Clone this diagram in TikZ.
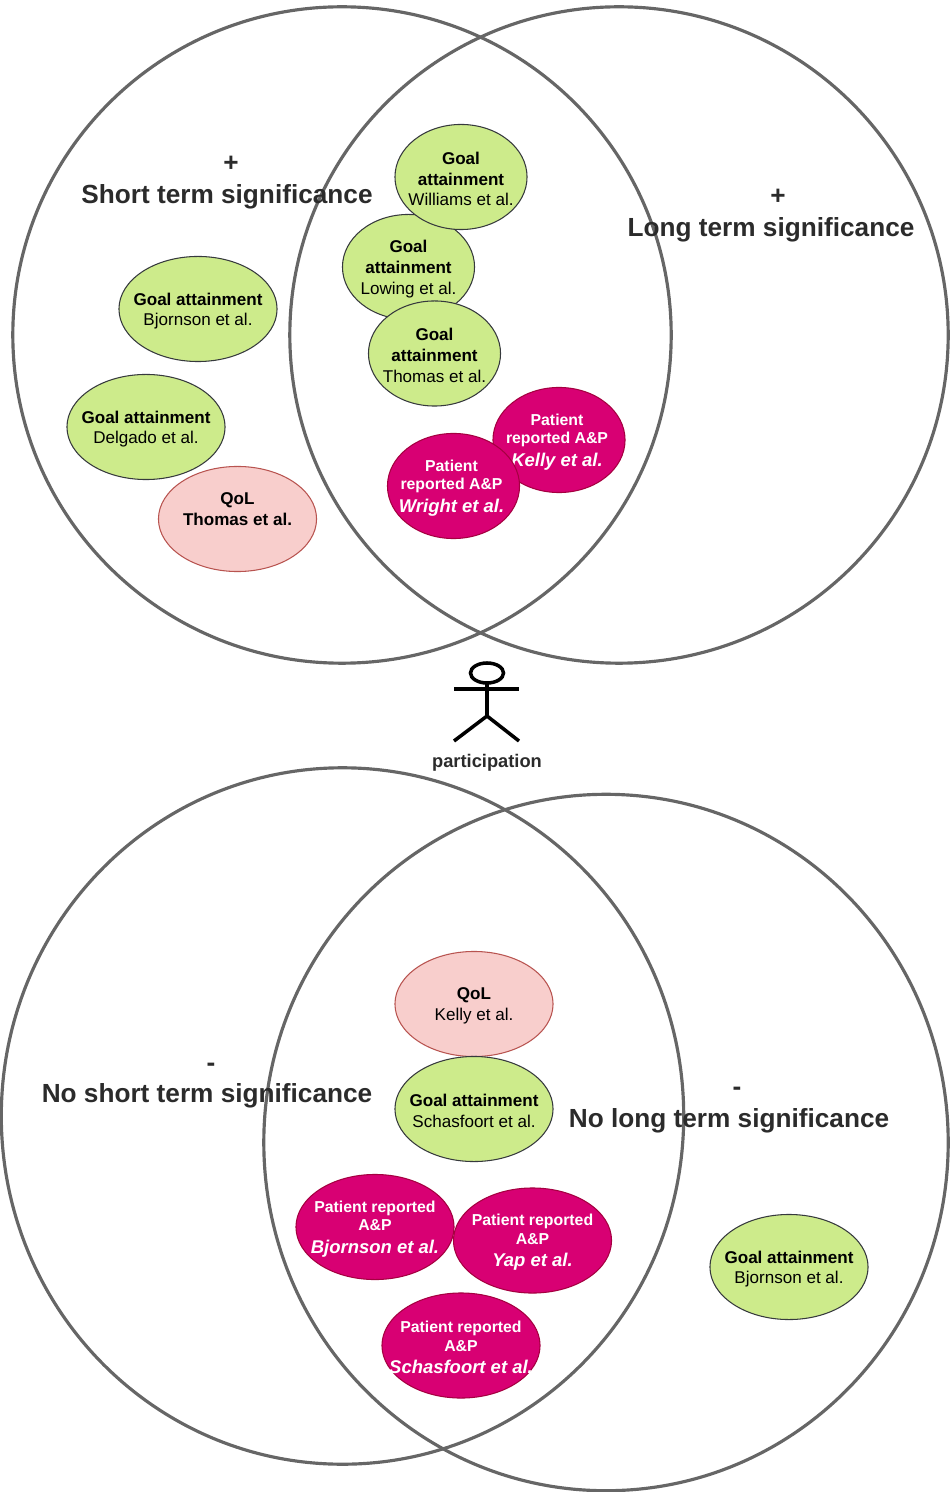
\documentclass[tikz,border=0pt]{standalone}
\usepackage{fontspec}
\setmainfont{Liberation Sans}
\usetikzlibrary{shapes.geometric}
\definecolor{ringgray}{HTML}{666666}
\definecolor{headgray}{HTML}{2B2B2B}
\definecolor{goalgreen}{HTML}{CDEB8B}
\definecolor{goalline}{HTML}{36393D}
\definecolor{patientpink}{HTML}{D80073}
\definecolor{patientline}{HTML}{A50040}
\definecolor{qolpink}{HTML}{F8CECC}
\definecolor{qolline}{HTML}{B85450}
\newcommand{\studyname}[1]{{\fontsize{5.25}{6}\selectfont\bfseries\itshape #1}}
\tikzset{
  ring/.style = {draw = ringgray, line width = 0.9pt},
  blob/.style = {ellipse, inner sep = 0pt, line width = 0.3pt,
    minimum width = 1.58cm, minimum height = 1.05cm},
  blobtext/.style = {inner sep = 0pt, align = center},
  goal/.style = {blob, draw = goalline, fill = goalgreen},
  goalnarrow/.style = {goal, minimum width = 1.32cm},
  qol/.style = {blob, draw = qolline, fill = qolpink},
  patient/.style = {blob, draw = patientline, fill = patientpink},
  patientnarrow/.style = {patient, minimum width = 1.32cm},
  darktext/.style = {blobtext, yshift = -0.02cm, text = black, font = \fontsize{4.85}{5.9}\selectfont},
  whitetext/.style = {blobtext, yshift = -0.02cm, text = white, font = \fontsize{4.5}{5.2}\selectfont\bfseries},
  heading/.style = {text = headgray, font = \fontsize{7.45}{9}\selectfont\bfseries},
  person/.style = {draw = black, line width = 1pt}
}
\begin{document}
\begin{tikzpicture}[x = 0.01cm, y = -0.01cm]
  \useasboundingbox (0, 0) rectangle (949, 1492);

  \draw[ring] (342, 335) ellipse [x radius = 3.29cm, y radius = 3.28cm];
  \draw[ring] (619, 335) ellipse [x radius = 3.29cm, y radius = 3.28cm];
  \draw[ring] (342.5, 1116) ellipse [x radius = 3.41cm, y radius = 3.48cm];
  \draw[ring] (606, 1142.5) ellipse [x radius = 3.42cm, y radius = 3.48cm];

  \node[heading] (plusshort) at (231, 164) {+};
  \node[heading] (short) at (227, 196.5) {Short term significance};
  \node[heading] (pluslong) at (778, 197) {+};
  \node[heading] (long) at (771, 229.5) {Long term significance};
  \node[heading] (minusshort) at (211, 1067) {-};
  \node[heading] (noshort) at (207, 1095.5) {No short term significance};
  \node[heading] (minuslong) at (737, 1091) {-};
  \node[heading] (nolong) at (729, 1120.5) {No long term significance};

  \node[goalnarrow, label = {[darktext]center:{\textbf{Goal}\\\textbf{attainment}\\Lowing et al.}}] (lowing) at (408.5, 267) {};
  \node[goalnarrow, label = {[darktext]center:{\textbf{Goal}\\\textbf{attainment}\\Williams et al.}}] (williams) at (461, 177) {};
  \node[goalnarrow, label = {[darktext]center:{\textbf{Goal}\\\textbf{attainment}\\Thomas et al.}}] (thomasgoal) at (434.5, 353.5) {};
  \node[patientnarrow, label = {[whitetext, xshift = -0.02cm]center:{Patient\\reported A\&P\\[1.2pt]\studyname{Kelly et al.}}}] (kelly) at (559, 440) {};
  \node[patientnarrow, label = {[whitetext, xshift = -0.02cm]center:{Patient\\reported A\&P\\[1.2pt]\studyname{Wright et al.}}}] (wright) at (453.5, 486) {};
  \node[goal, label = {[darktext]center:{\textbf{Goal attainment}\\Bjornson et al.}}] (bjornsongoal) at (198, 309) {};
  \node[goal, label = {[darktext]center:{\textbf{Goal attainment}\\Delgado et al.}}] (delgado) at (146, 427) {};
  \node[qol, label = {[darktext, yshift = 0.12cm]center:{\textbf{QoL}\\\textbf{Thomas et al.}}}] (thomasqol) at (237.5, 519) {};

  \draw[person] (487, 673) ellipse [x radius = 0.165cm, y radius = 0.1cm];
  \draw[person] (454, 689) -- (519, 689);
  \draw[person] (487, 683) -- (487, 716);
  \draw[person] (454, 741) -- (487, 716) -- (519, 741);
  \node[text = headgray, font = \fontsize{5.2}{6}\selectfont\bfseries] (participation) at (487, 763) {participation};

  \node[qol, label = {[darktext]center:{\textbf{QoL}\\Kelly et al.}}] (kellyqol) at (474, 1004) {};
  \node[goal, label = {[darktext]center:{\textbf{Goal attainment}\\Schasfoort et al.}}] (schasfoortgoal) at (474, 1109) {};
  \node[patient, label = {[whitetext]center:{Patient reported\\A\&P\\[1.2pt]\studyname{Bjornson et al.}}}] (bjornsonpatient) at (375, 1227) {};
  \node[patient, label = {[whitetext]center:{Patient reported\\A\&P\\[1.2pt]\studyname{Yap et al.}}}] (yap) at (532.5, 1240.5) {};
  \node[patient, label = {[whitetext]center:{Patient reported\\A\&P\\[1.2pt]\studyname{Schasfoort et al.}}}] (schasfoortpatient) at (461, 1345.5) {};
  \node[goal, label = {[darktext]center:{\textbf{Goal attainment}\\Bjornson et al.}}] (bjornsonlong) at (789, 1267) {};

\end{tikzpicture}
\end{document}
